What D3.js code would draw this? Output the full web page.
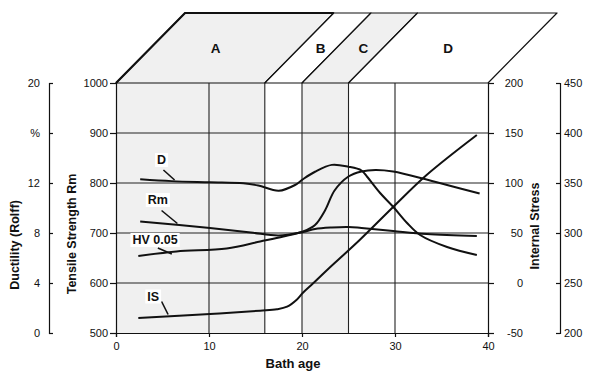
<!DOCTYPE html>
<html>
<head>
<meta charset="utf-8">
<script src="https://cdn.jsdelivr.net/npm/d3@7/dist/d3.min.js"></script>
<style>
  body { margin: 0; background: #fff; }
  svg text { font-family: "Liberation Sans", Arial, sans-serif; fill: #111; }
  .axis text { font-size: 11px; }
  .axis path, .axis line { stroke: #111; stroke-width: 1.2; }
  .title { font-size: 12.5px; font-weight: bold; }
</style>
</head>
<body>
<svg id="chart" width="594" height="372"></svg>
<script>
// regions of bath life
const regionNames = ['A', 'B', 'C', 'D'];
const regionBounds = [0, 16, 20, 25, 40];
const regionShaded = [true, false, true, false];
const regionLabelAge = [7, 18.3, 22.9, 32];

// tick values
const ageTicks = [0, 10, 20, 30, 40];
const rmTicks = [500, 600, 700, 800, 900, 1000];
const ductTicks = [0, 4, 8, 12, 16, 20];
const stressTicks = [-50, 0, 50, 100, 150, 200];
const outerTicks = [200, 250, 300, 350, 400, 450];

// series (bath age, value)
const ductAge = [2.6, 6, 10.1, 13.7, 15.3, 17.5, 19.25, 20.1, 21.4, 23.2, 25.0, 26.4, 27.0, 28.4, 29.8, 31.3, 32.7, 35.6, 38.8];
const ductVal = [12.3, 12.15, 12.06, 11.98, 11.8, 11.38, 11.84, 12.3, 12.9, 13.45, 13.3, 13.0, 12.5, 11.2, 10.1, 8.8, 7.84, 6.88, 6.24];

const rmAge = [2.6, 10.1, 14.5, 17.5, 20.1, 21.4, 23.2, 25.0, 26.4, 29.8, 33.4, 38.8];
const rmVal = [723, 710, 701, 695, 702, 708, 711, 712, 710, 704, 698, 694];

const hvAge = [2.4, 6.5, 11.9, 15.5, 18, 20.1, 21.4, 22.5, 23.5, 25.0, 26.4, 27.9, 29.8, 33.4, 35.6, 39.1];
const hvVal = [654, 663, 669, 683, 693, 703, 716, 746, 785, 813, 823, 826, 823, 807, 796, 779];

const isAge = [2.4, 10.1, 15.5, 17.3, 18.4, 19.4, 20.1, 21.2, 22.7, 26.2, 29.8, 33.4, 38.8];
const isVal = [-35, -31, -27.7, -26.3, -23.7, -17, -9.7, -0.3, 13, 43, 76, 108, 148];

const seriesLabels = ['D', 'Rm', 'HV 0.05', 'IS'];

const svg = d3.select('#chart');
const plotTop = 83, plotBottom = 333, plotLeft = 116, plotRight = 488;
const depthX = 69, depthY = -70;

const x = d3.scaleLinear().domain([0, 40]).range([plotLeft, plotRight]);
const yRm = d3.scaleLinear().domain([500, 1000]).range([plotBottom, plotTop]);
const yD = d3.scaleLinear().domain([0, 20]).range([plotBottom, plotTop]);
const yIS = d3.scaleLinear().domain([-50, 200]).range([plotBottom, plotTop]);
const yOuter = d3.scaleLinear().domain([200, 450]).range([plotBottom, plotTop]);
const plain = d => String(d);

// shaded bands in plot and on the top face
const regions = regionNames.map((n, i) => ({
    name: n, from: regionBounds[i], to: regionBounds[i + 1], shaded: regionShaded[i], labelAge: regionLabelAge[i]
}));

svg.append('g').selectAll('rect').data(regions.filter(d => d.shaded)).join('rect')
    .attr('x', d => x(d.from)).attr('y', plotTop)
    .attr('width', d => x(d.to) - x(d.from)).attr('height', plotBottom - plotTop)
    .attr('fill', '#f0f0f0');

svg.append('g').selectAll('path').data(regions).join('path')
    .attr('d', d => `M${x(d.from)},${plotTop}L${x(d.to)},${plotTop}L${x(d.to) + depthX},${plotTop + depthY}L${x(d.from) + depthX},${plotTop + depthY}Z`)
    .attr('fill', d => d.shaded ? '#f0f0f0' : '#fff')
    .attr('stroke', '#111').attr('stroke-width', 1.2).attr('stroke-linejoin', 'round');

// thick left edge of the top face
svg.append('path')
    .attr('d', `M${x(0)},${plotTop}L${x(0) + depthX},${plotTop + depthY}L${x(16) + depthX},${plotTop + depthY}`)
    .attr('fill', 'none').attr('stroke', '#111').attr('stroke-width', 2.2);

svg.append('g').selectAll('text').data(regions).join('text')
    .attr('x', d => x(d.labelAge) + depthX / 2).attr('y', plotTop + depthY / 2)
    .attr('text-anchor', 'middle').attr('dominant-baseline', 'central')
    .style('font-size', '13.5px').style('font-weight', 'bold')
    .text(d => d.name);

// grid
const grid = svg.append('g').attr('stroke', '#222').attr('stroke-width', 1.1);
grid.selectAll('.h').data(rmTicks.slice(1, -1)).join('line')
    .attr('x1', plotLeft).attr('x2', plotRight).attr('y1', d => yRm(d)).attr('y2', d => yRm(d));
const vlines = Array.from(new Set(ageTicks.concat(regionBounds))).filter(d => d > 0 && d < 40);
grid.selectAll('.v').data(vlines).join('line')
    .attr('x1', d => x(d)).attr('x2', d => x(d)).attr('y1', plotTop).attr('y2', plotBottom);

// axes
svg.append('g').attr('class', 'axis').attr('transform', `translate(${plotLeft},0)`)
    .call(d3.axisLeft(yRm).tickValues(rmTicks).tickSize(6).tickPadding(2).tickFormat(plain));
svg.append('g').attr('class', 'axis').attr('transform', `translate(0,${plotBottom})`)
    .call(d3.axisBottom(x).tickValues(ageTicks).tickSize(4).tickPadding(5).tickFormat(plain));
svg.append('g').attr('class', 'axis').attr('transform', `translate(${plotRight},0)`)
    .call(d3.axisRight(yIS).tickValues(stressTicks).tickSize(6).tickFormat(plain))
    .selectAll('text').attr('text-anchor', 'end').attr('x', 35);
svg.append('g').attr('class', 'axis').attr('transform', 'translate(49,0)')
    .call(d3.axisLeft(yD).tickValues(ductTicks).tickSizeInner(-4).tickSizeOuter(-4).tickPadding(9)
        .tickFormat(d => d === 16 ? '%' : plain(d)));
svg.append('g').attr('class', 'axis').attr('transform', 'translate(560,0)')
    .call(d3.axisRight(yOuter).tickValues(outerTicks).tickSizeInner(-4).tickSizeOuter(-4).tickPadding(4).tickFormat(plain));

// axis titles
svg.append('text').attr('class', 'title').attr('transform', 'translate(15,245) rotate(-90)')
    .attr('text-anchor', 'middle').attr('dominant-baseline', 'central').text('Ductility (Rolff)');
svg.append('text').attr('class', 'title').attr('transform', 'translate(72,234) rotate(-90)')
    .attr('text-anchor', 'middle').attr('dominant-baseline', 'central').text('Tensile Strength Rm');
svg.append('text').attr('class', 'title').attr('transform', 'translate(535,226) rotate(-90)')
    .attr('text-anchor', 'middle').attr('dominant-baseline', 'central').text('Internal Stress');
svg.append('text').attr('class', 'title').attr('x', 293).attr('y', 363)
    .attr('text-anchor', 'middle').attr('dominant-baseline', 'central').style('font-size', '13px').text('Bath age');

// curves
const series = [
    { name: 'D', age: ductAge, val: ductVal, y: yD },
    { name: 'Rm', age: rmAge, val: rmVal, y: yRm },
    { name: 'HV 0.05', age: hvAge, val: hvVal, y: yRm },
    { name: 'IS', age: isAge, val: isVal, y: yIS }
];
const curves = svg.append('g');
series.forEach(s => {
    const line = d3.line().x(d => x(d[0])).y(d => s.y(d[1])).curve(d3.curveCatmullRom.alpha(0.5));
    curves.append('path').datum(d3.zip(s.age, s.val))
        .attr('d', line).attr('fill', 'none').attr('stroke', '#111').attr('stroke-width', 2)
        .attr('stroke-linejoin', 'round');
});

// curve labels with leaders (positions in bath age / Rm units)
const labelPos = [[4.9, 846], [4.5, 766], [4.2, 686], [4.0, 573]];
const leaderFrom = [[5.1, 826], [4.9, 745], [4.5, 670], [4.9, 563]];
const leaderTo = [[6.3, 806], [6.6, 719], [6.0, 658], [5.6, 537]];
const ann = svg.append('g');
seriesLabels.forEach((name, i) => {
    ann.append('line')
        .attr('x1', x(leaderFrom[i][0])).attr('y1', yRm(leaderFrom[i][1]))
        .attr('x2', x(leaderTo[i][0])).attr('y2', yRm(leaderTo[i][1]))
        .attr('stroke', '#111').attr('stroke-width', 1.6);
    const t = ann.append('text')
        .attr('x', x(labelPos[i][0])).attr('y', yRm(labelPos[i][1]))
        .attr('text-anchor', 'middle').attr('dominant-baseline', 'central')
        .style('font-size', '12.5px').style('font-weight', 'bold').text(name);
    const b = t.node().getBBox();
    ann.insert('rect', () => t.node())
        .attr('x', b.x - 2).attr('y', b.y).attr('width', b.width + 4).attr('height', b.height)
        .attr('fill', '#fff');
});
</script>
</body>
</html>
